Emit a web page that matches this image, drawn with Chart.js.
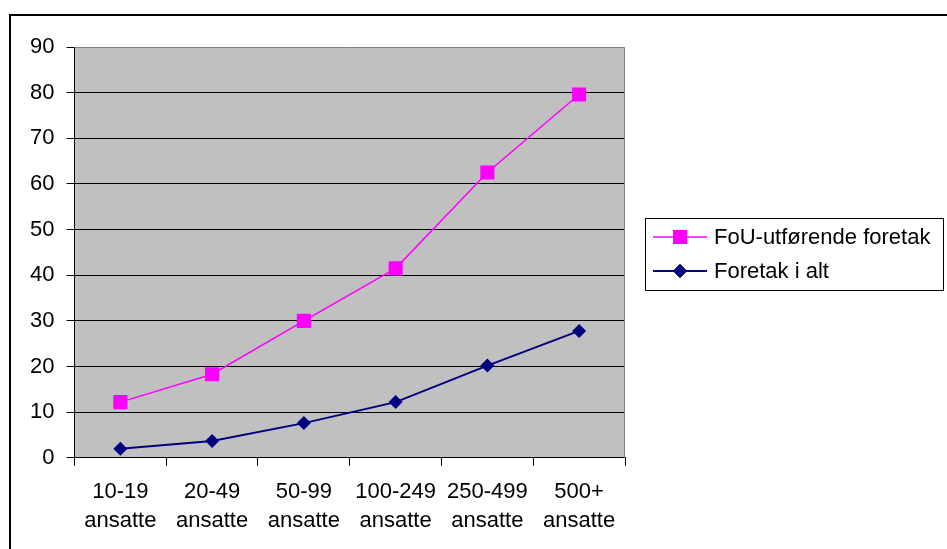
<!DOCTYPE html>
<html>
<head>
<meta charset="utf-8">
<script src="https://cdn.jsdelivr.net/npm/chart.js@4/dist/chart.umd.min.js"></script>
<style>
  html, body { margin: 0; padding: 0; background: #fff; }
  #wrap { width: 947px; height: 549px; position: relative; }
</style>
</head>
<body>
<div id="wrap"><canvas id="chart" width="947" height="549"></canvas></div>
<script>
const categories = [
  ['10-19', 'ansatte'],
  ['20-49', 'ansatte'],
  ['50-99', 'ansatte'],
  ['100-249', 'ansatte'],
  ['250-499', 'ansatte'],
  ['500+', 'ansatte']
];
const fouValues = [12.2, 18.3, 30.0, 41.5, 62.5, 79.6];
const totalValues = [2.0, 3.7, 7.6, 12.2, 20.2, 27.8];
const seriesNames = ['FoU-utførende foretak', 'Foretak i alt'];
const yTicks = { min: 0, max: 90, step: 10 };

const FONT = 'Liberation Sans, Arial, sans-serif';

// grey plot area + outer frame
const frame = {
  id: 'frame',
  beforeDraw(chart) {
    const { ctx, chartArea: a } = chart;
    ctx.save();
    ctx.fillStyle = '#c0c0c0';
    ctx.fillRect(a.left, a.top, a.right - a.left, a.bottom - a.top);
    ctx.strokeStyle = '#000';
    ctx.lineWidth = 2;
    ctx.beginPath();
    ctx.moveTo(10, 560);
    ctx.lineTo(10, 15);
    ctx.lineTo(960, 15);
    ctx.stroke();
    ctx.restore();
  },
  beforeDatasetsDraw(chart) {
    const { ctx, chartArea: a } = chart;
    ctx.save();
    ctx.strokeStyle = '#808080';
    ctx.lineWidth = 1;
    ctx.beginPath();
    ctx.moveTo(a.left, a.top + 0.5);
    ctx.lineTo(a.right - 0.5, a.top + 0.5);
    ctx.lineTo(a.right - 0.5, a.bottom);
    ctx.stroke();
    ctx.restore();
  }
};

// legend box on the right, line + marker like the original
const sideLegend = {
  id: 'sideLegend',
  afterDraw(chart) {
    const { ctx } = chart;
    const x = 645.5, y = 218.5, w = 298, h = 72;
    ctx.save();
    ctx.fillStyle = '#fff';
    ctx.fillRect(x, y, w, h);
    ctx.strokeStyle = '#000';
    ctx.lineWidth = 1;
    ctx.strokeRect(x, y, w, h);
    chart.data.datasets.forEach((ds, i) => {
      const cy = 237 + i * 34;
      ctx.strokeStyle = ds.borderColor;
      ctx.lineWidth = ds.borderWidth;
      ctx.beginPath();
      ctx.moveTo(653, cy);
      ctx.lineTo(707, cy);
      ctx.stroke();
      Chart.helpers.drawPoint(ctx, {
        pointStyle: ds.pointStyle,
        radius: ds.pointRadius,
        borderWidth: 0
      }, 680, cy);
      ctx.fillStyle = ds.pointBackgroundColor;
      ctx.fill();
      ctx.fillStyle = '#000';
      ctx.font = '22px ' + FONT;
      ctx.textBaseline = 'middle';
      ctx.textAlign = 'left';
      ctx.fillText(ds.label, 714, cy + 1);
    });
    ctx.restore();
  }
};

new Chart(document.getElementById('chart'), {
  type: 'line',
  data: {
    labels: categories,
    datasets: [
      {
        label: seriesNames[0],
        data: fouValues,
        borderColor: '#ff00ff',
        backgroundColor: '#ff00ff',
        pointBackgroundColor: '#ff00ff',
        pointBorderColor: '#ff00ff',
        borderWidth: 1.5,
        pointStyle: 'rect',
        pointRadius: 10,
        pointBorderWidth: 0,
        tension: 0
      },
      {
        label: seriesNames[1],
        data: totalValues,
        borderColor: '#000080',
        backgroundColor: '#000080',
        pointBackgroundColor: '#000080',
        pointBorderColor: '#000080',
        borderWidth: 2,
        pointStyle: 'rectRot',
        pointRadius: 7,
        pointBorderWidth: 0,
        tension: 0
      }
    ]
  },
  options: {
    responsive: false,
    animation: false,
    layout: { padding: { left: 18, top: 47, right: 322, bottom: 2 } },
    plugins: {
      legend: { display: false },
      tooltip: { enabled: false }
    },
    scales: {
      x: {
        offset: true,
        grid: {
          offset: true,
          drawOnChartArea: false,
          drawTicks: true,
          tickLength: 8,
          color: '#000'
        },
        border: { display: true, color: '#000', width: 1 },
        ticks: {
          color: '#000',
          font: { family: FONT, size: 22, lineHeight: 1.3 },
          padding: 12,
          maxRotation: 0,
          autoSkip: false
        }
      },
      y: {
        min: yTicks.min,
        max: yTicks.max,
        ticks: {
          stepSize: yTicks.step,
          color: '#000',
          font: { family: FONT, size: 22 },
          padding: 12
        },
        grid: {
          color: ctx => (ctx.tick && ctx.tick.value === yTicks.max ? 'rgba(0,0,0,0)' : '#000'),
          tickColor: '#000',
          tickLength: 8,
          lineWidth: 1
        },
        border: { display: true, color: '#000', width: 1 }
      }
    }
  },
  plugins: [frame, sideLegend]
});
</script>
</body>
</html>
